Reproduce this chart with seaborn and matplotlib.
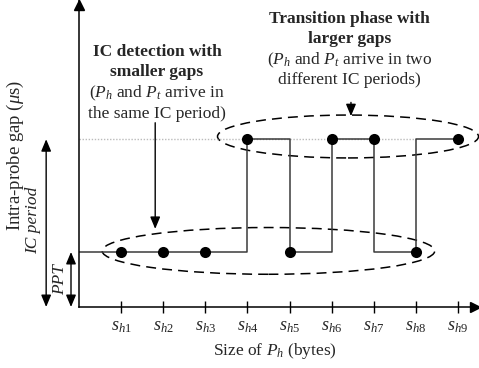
import matplotlib
matplotlib.use("Agg")
import matplotlib.pyplot as plt
from matplotlib.patches import Ellipse
import numpy as np
import pandas as pd
import seaborn as sns

# Probe sizes (tick positions) and their labels
size_pos = [1, 2, 3, 4, 5, 6, 7, 8, 9]
size_labels = [r"$s_{h1}$", r"$s_{h2}$", r"$s_{h3}$", r"$s_{h4}$", r"$s_{h5}$",
               r"$s_{h6}$", r"$s_{h7}$", r"$s_{h8}$", r"$s_{h9}$"]

# Gap levels (arbitrary units): packet pair time and one IC period
ppt = 1.0
ic_period = 3.05

# Measured intra-probe gap for every probe size
gap_values = [ppt, ppt, ppt, ic_period, ppt, ic_period, ic_period, ppt, ic_period]

# Piecewise-constant gap curve (steps-post): change points and levels
step_x = [0, 4, 5, 6, 7, 8, 9]
step_y = [ppt, ic_period, ppt, ic_period, ppt, ic_period, ic_period]

sns.set_theme(style="white")
plt.rcParams["font.family"] = ["Liberation Serif", "DejaVu Serif"]
plt.rcParams["mathtext.fontset"] = "custom"
plt.rcParams["mathtext.rm"] = "Liberation Serif"
plt.rcParams["mathtext.it"] = "Liberation Serif:italic"
plt.rcParams["mathtext.bf"] = "Liberation Serif:bold"

W, H = 479, 368
fig = plt.figure(figsize=(W / 100, H / 100), dpi=100)
fig.patch.set_facecolor("white")

x0_px, y0_px = 79, 307       # axis origin in pixels
px_x, px_y = 42.1, 55.0       # pixels per data unit
ax = fig.add_axes([x0_px / W, (H - y0_px) / H, 1 - x0_px / W, y0_px / H])
ax.set_facecolor("none")
ax.set_xlim(0, (W - x0_px) / px_x)
ax.set_ylim(0, y0_px / px_y)

for s in ["top", "right"]:
    ax.spines[s].set_visible(False)
for s in ["left", "bottom"]:
    ax.spines[s].set_color("black")
    ax.spines[s].set_linewidth(1.1)

FS = 12.5

# Ticks on the size axis
ax.set_xticks(size_pos)
ax.set_xticklabels(size_labels, fontsize=13)
ax.tick_params(axis="x", direction="inout", length=9, width=1.0, color="black",
               pad=3.5, bottom=True)
ax.set_yticks([])

# Arrow heads at the ends of both axes
xmax = ax.get_xlim()[1]
ymax = ax.get_ylim()[1]
ax.plot(xmax - 0.1, 0, marker=">", color="black", ms=7, clip_on=False)
ax.plot(0, ymax - 0.1, marker="^", color="black", ms=7, clip_on=False)

# Reference level of one IC period
ax.plot([0, 8], [ic_period, ic_period], color="#bbbbbb", lw=1.0, ls=(0, (1, 1.2)))

# Step curve and measured points
df_step = pd.DataFrame({"size": step_x, "gap": step_y})
sns.lineplot(data=df_step, x="size", y="gap", ax=ax, sort=False, estimator=None,
             drawstyle="steps-post", color="#3a3a3a", lw=1.1)
df_pts = pd.DataFrame({"size": size_pos, "gap": gap_values})
sns.scatterplot(data=df_pts, x="size", y="gap", ax=ax, color="black", s=64,
                edgecolor="black", linewidth=0, zorder=5, clip_on=False)
ax.set_xlabel("")
ax.set_ylabel("")

# Dashed ellipses grouping the two phases
ax.add_patch(Ellipse((4.5, 1.02), 7.9, 0.85, fill=False, ec="black", lw=1.1,
                     ls=(0, (6.5, 4)), clip_on=False))
ax.add_patch(Ellipse((6.39, 3.10), 6.2, 0.78, fill=False, ec="black", lw=1.1,
                     ls=(0, (6.5, 4)), clip_on=False))

arrow = dict(arrowstyle="-|>,head_length=0.6,head_width=0.25", color="black", lw=1.0,
             shrinkA=0, shrinkB=0)

# Annotation for the detection phase
ax.text(1.85, 4.78, "IC detection with\nsmaller gaps", ha="center", va="top",
        fontsize=FS, fontweight="bold", linespacing=1.3, clip_on=False)
ax.text(1.85, 4.05, "($P_h$ and $P_t$ arrive in\nthe same IC period)", ha="center",
        va="top", fontsize=FS, linespacing=1.2, clip_on=False)
ax.annotate("", xy=(1.81, 1.42), xytext=(1.81, 3.35), arrowprops=arrow,
            annotation_clip=False)

# Annotation for the transition phase
ax.text(6.42, 5.38, "Transition phase with\nlarger gaps", ha="center", va="top",
        fontsize=FS, fontweight="bold", linespacing=1.3, clip_on=False)
ax.text(6.42, 4.66, "($P_h$ and $P_t$ arrive in two\ndifferent IC periods)", ha="center",
        va="top", fontsize=FS, linespacing=1.2, clip_on=False)
ax.annotate("", xy=(6.46, 3.47), xytext=(6.46, 3.72), arrowprops=arrow,
            annotation_clip=False)

# Double arrows for IC period and PPT on the left
dbl = dict(arrowstyle="<|-|>,head_length=0.6,head_width=0.25", color="black", lw=1.0,
           shrinkA=0, shrinkB=0)
ax.annotate("", xy=(-0.78, 0), xytext=(-0.78, ic_period), arrowprops=dbl,
            annotation_clip=False)
ax.annotate("", xy=(-0.19, 0), xytext=(-0.19, ppt), arrowprops=dbl,
            annotation_clip=False)
ax.text(-1.08, ic_period / 2 + 0.05, "IC period", rotation=90, ha="center", va="center",
        fontsize=FS, style="italic", clip_on=False)
ax.text(-0.45, ppt / 2, "PPT", rotation=90, ha="center", va="center",
        fontsize=FS, style="italic", clip_on=False)

# Axis titles
ax.text(-1.52, 2.76, r"Intra-probe gap ($\mu$s)", rotation=90, ha="center",
        va="center", fontsize=13.5, clip_on=False)
ax.text(4.66, -0.80, "Size of $P_h$ (bytes)", ha="center", va="center",
        fontsize=FS, clip_on=False)

fig.savefig("out.png", dpi=100)
